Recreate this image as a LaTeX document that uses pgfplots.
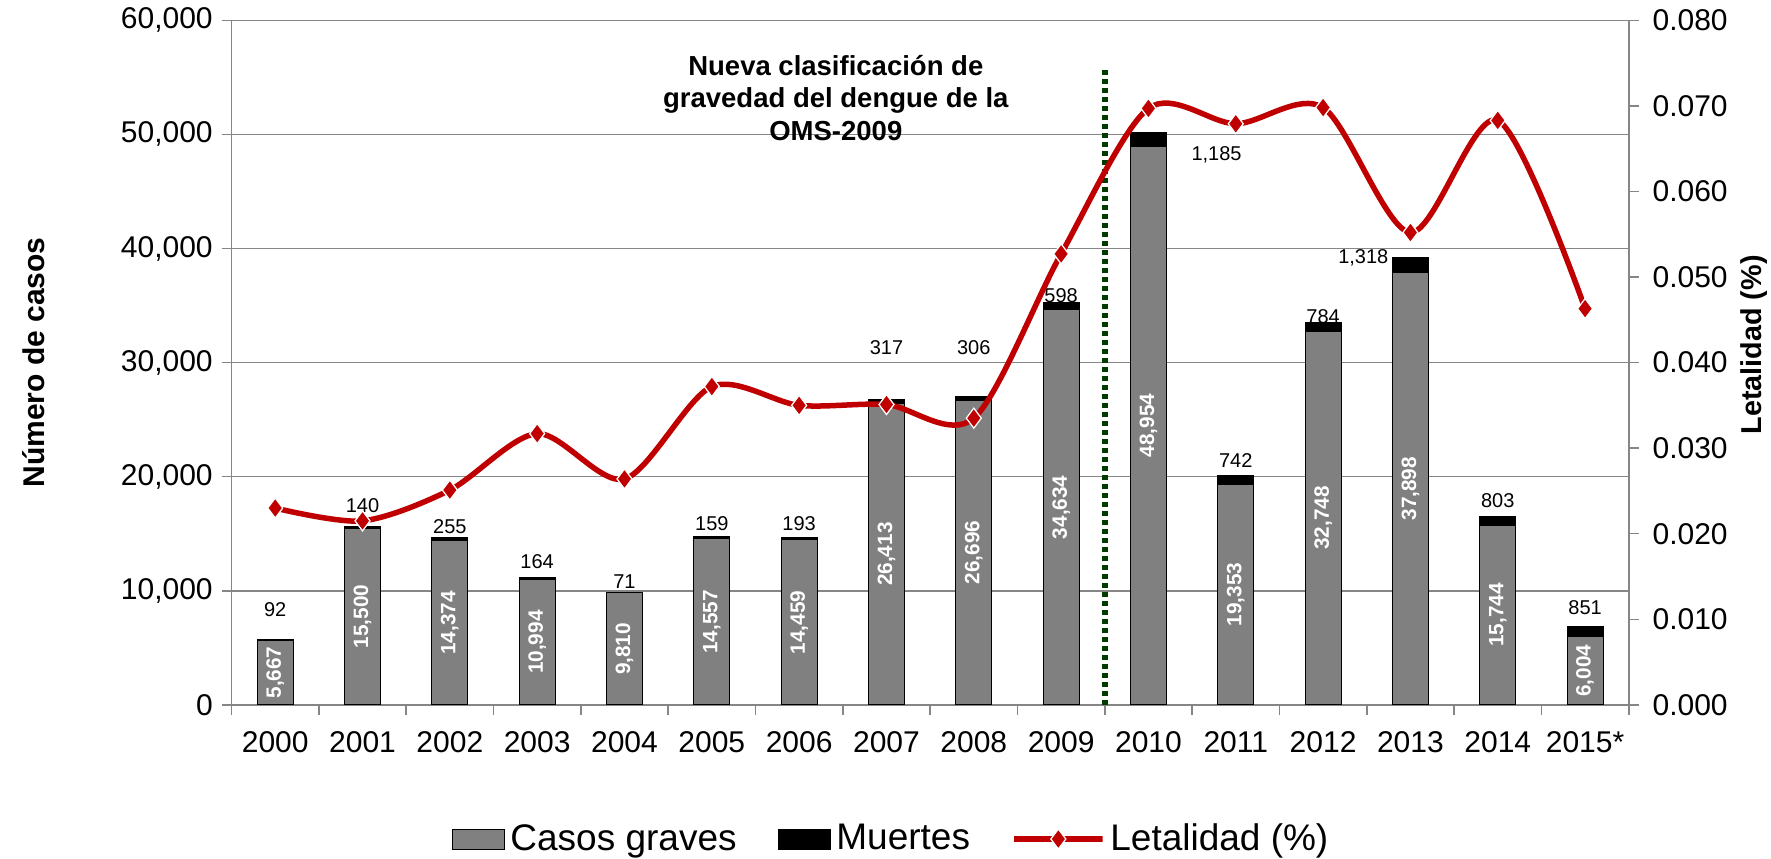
\documentclass[border=0pt]{standalone}
\usepackage{pgfplots}
\pgfplotsset{compat=1.18}
\usepackage{pgfplotstable}
\usepackage{fontspec}
\setmainfont{Liberation Sans}
\usetikzlibrary{calc}
\definecolor{barra}{RGB}{128,128,128}
\definecolor{rojo}{RGB}{192,0,0}
\definecolor{verde}{RGB}{0,60,0}
\definecolor{rejilla}{RGB}{134,134,134}
\newcommand\ftick{\fontsize{12}{14}\selectfont}
\newcommand\fleg{\fontsize{14.8}{16}\selectfont}
\newcommand\fin{\bfseries\fontsize{8.3}{9}\selectfont}
\newcommand\fval{\fontsize{8}{9}\selectfont}
\newcommand\fnote{\bfseries\fontsize{11}{13}\selectfont}
\newcommand\hueco{\rule{14.5pt}{0pt}}
\tikzset{dentro/.style={rotate=90,text=white,font=\fin},
  arriba/.style={font=\fval}}
\pgfplotsset{
  barleg/.style={legend image code/.code={\draw[##1] (0pt,-4pt) rectangle (21pt,4pt);}},
  lineleg/.style={legend image code/.code={\draw[mark repeat=2,mark phase=2,##1] plot coordinates {(0pt,0pt)(10.5pt,0pt)(21pt,0pt)};}},
}

% year index, casos graves, muertes, letalidad
\pgfplotstableread{
x casos muertes let
0 5667 92 0.0230
1 15500 140 0.0215
2 14374 255 0.0251
3 10994 164 0.0317
4 9810 71 0.0264
5 14557 159 0.0372
6 14459 193 0.0350
7 26413 317 0.0351
8 26696 306 0.0335
9 34634 598 0.0527
10 48954 1185 0.0697
11 19353 742 0.0679
12 32748 784 0.0698
13 37898 1318 0.0552
14 15744 803 0.0683
15 6004 851 0.0463
}\datos

\begin{document}
\begin{tikzpicture}
\begin{axis}[name=ax,scale only axis,width=558.8pt,height=273.8pt,
  ybar stacked,bar width=14.4pt,
  xmin=-0.5,xmax=15.5,ymin=0,ymax=60000,
  xtick={0,...,15},
  xticklabels={2000,2001,2002,2003,2004,2005,2006,2007,2008,2009,2010,2011,2012,2013,2014,2015*},
  minor xtick={-0.5,0.5,...,15.5},major x tick style={draw=none},
  ytick={0,10000,20000,30000,40000,50000,60000},
  axis x line*=bottom,axis y line*=left,
  ymajorgrids,grid style={rejilla,line width=0.6pt},
  axis line style={rejilla,line width=0.6pt},
  tick style={rejilla,line width=0.6pt},tick align=outside,
  major tick length=4pt,minor tick length=4pt,
  scaled y ticks=false,
  yticklabel style={/pgf/number format/1000 sep={,}},
  xticklabel style={yshift=-3pt},
  /pgf/number format/assume math mode=true,
  tick label style={font=\ftick},
  ylabel={Número de casos},
  ylabel style={font=\bfseries\ftick,at={(axis description cs:-0.1414,0.5)},anchor=center},
  legend style={at={(axis description cs:0.152,-0.196)},anchor=west,draw=none,
    font=\fleg,legend columns=-1},
]
\addplot[fill=barra,draw=black,line width=0.4pt,barleg] table[x=x,y=casos]{\datos};
\addlegendentry{Casos graves\hueco}
\addplot[fill=black,draw=black,line width=0.4pt,barleg] table[x=x,y=muertes]{\datos};
\addlegendentry{Muertes\hueco}
\addlegendimage{lineleg,rojo,line width=2.2pt,mark=diamond*,mark size=4pt,mark options={fill=rojo,draw=white,line width=0.5pt}}
\addlegendentry{Letalidad (\%)}

\draw[verde,line width=2.3pt,dash pattern=on 1.8pt off 1.8pt] (axis cs:9.5,0) -- (axis cs:9.5,56000);
\node[align=center,font=\fnote] at (axis cs:6.42,53200)
  {Nueva clasificación de\\gravedad del dengue de la\\OMS-2009};

% muertes
\node[arriba] at (axis cs:0,8317) {92};
\node[arriba] at (axis cs:1,17426) {140};
\node[arriba] at (axis cs:2,15644) {255};
\node[arriba] at (axis cs:3,12574) {164};
\node[arriba] at (axis cs:4,10792) {71};
\node[arriba] at (axis cs:5,15842) {159};
\node[arriba] at (axis cs:6,15842) {193};
\node[arriba] at (axis cs:7,31287) {317};
\node[arriba] at (axis cs:8,31287) {306};
\node[arriba] at (axis cs:9,35842) {598};
\node[arriba] at (axis cs:10.78,48218) {1,185};
\node[arriba] at (axis cs:11,21386) {742};
\node[arriba] at (axis cs:12,34059) {784};
\node[arriba] at (axis cs:12.46,39208) {1,318};
\node[arriba] at (axis cs:14,17921) {803};
\node[arriba] at (axis cs:15,8515) {851};
\end{axis}

\begin{axis}[scale only axis,width=558.8pt,height=273.8pt,
  xmin=-0.5,xmax=15.5,ymin=0,ymax=0.08,
  axis x line=none,axis y line*=right,
  ytick={0,0.01,0.02,0.03,0.04,0.05,0.06,0.07,0.08},
  axis line style={rejilla,line width=0.6pt},
  tick style={rejilla,line width=0.6pt},tick align=outside,major tick length=4pt,
  scaled y ticks=false,
  yticklabel style={/pgf/number format/fixed,/pgf/number format/fixed zerofill,/pgf/number format/precision=3,xshift=2pt},
  /pgf/number format/assume math mode=true,
  tick label style={font=\ftick},
  ylabel={Letalidad (\%)},
  ylabel style={font=\bfseries\fontsize{11.5}{14}\selectfont,at={(axis description cs:1.0899,0.526)},anchor=center},
]
% valores de casos graves dentro de las barras (escala derecha: casos/750000)
\node[dentro] at (axis cs:0,0.003777) {5,667};
\node[dentro] at (axis cs:1,0.010333) {15,500};
\node[dentro] at (axis cs:2,0.009583) {14,374};
\node[dentro] at (axis cs:3,0.007329) {10,994};
\node[dentro] at (axis cs:4,0.006540) {9,810};
\node[dentro] at (axis cs:5,0.009704) {14,557};
\node[dentro] at (axis cs:6,0.009639) {14,459};
\node[dentro] at (axis cs:7,0.017608) {26,413};
\node[dentro] at (axis cs:8,0.017797) {26,696};
\node[dentro] at (axis cs:9,0.023089) {34,634};
\node[dentro] at (axis cs:10,0.032636) {48,954};
\node[dentro] at (axis cs:11,0.012901) {19,353};
\node[dentro] at (axis cs:12,0.021832) {32,748};
\node[dentro] at (axis cs:13,0.025265) {37,898};
\node[dentro] at (axis cs:14,0.010496) {15,744};
\node[dentro] at (axis cs:15,0.004003) {6,004};
\addplot[rojo,line width=2.2pt,smooth,mark=diamond*,mark size=4pt,
  mark options={fill=rojo,draw=white,line width=0.5pt}] table[x=x,y=let]{\datos};
\end{axis}

\pgfresetboundingbox
\path ($(ax.south west)+(-92.6pt,-61.3pt)$) rectangle ($(ax.north east)+(56.9pt,8.1pt)$);
\end{tikzpicture}
\end{document}
